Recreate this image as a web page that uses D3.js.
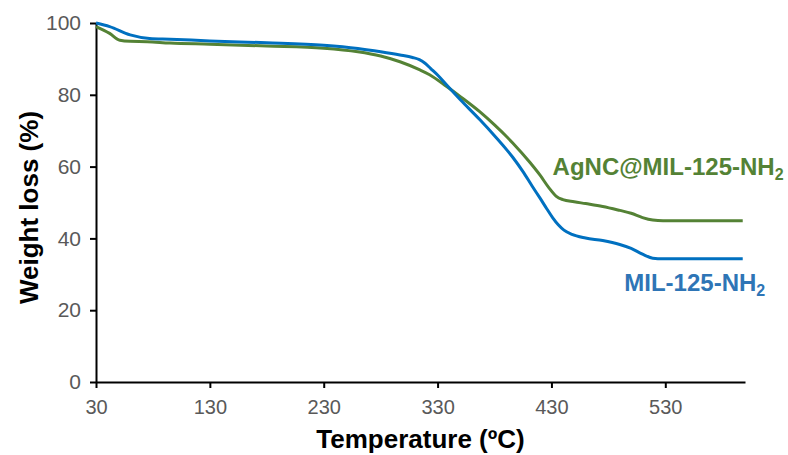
<!DOCTYPE html>
<html>
<head>
<meta charset="utf-8">
<script src="https://cdn.jsdelivr.net/npm/d3@7/dist/d3.min.js"></script>
<style>
  html, body { margin: 0; padding: 0; background: #fff; }
  svg { display: block; font-family: "Liberation Sans", Arial, sans-serif; }
</style>
</head>
<body>
<svg id="chart" width="788" height="455"></svg>
<script>
// TGA curves: temperature (ºC) vs remaining weight (%)
const tempMIL = [30, 42, 60, 77, 95, 130, 180, 230, 260, 280, 297, 308, 314, 319, 324, 330, 338, 350, 367, 380, 396, 405, 413, 420, 426, 431, 436, 441, 448, 460, 475, 490, 500, 510, 519, 528, 560, 598];
const weightMIL = [100, 99, 96.7, 95.7, 95.5, 95, 94.5, 93.8, 92.9, 92.0, 91.1, 90.4, 89.8, 88.8, 87.3, 85.5, 82.7, 78.6, 73.1, 68.6, 62.6, 58.6, 54.6, 51.2, 48.2, 45.8, 43.8, 42.3, 41.1, 40.1, 39.4, 38.3, 37.2, 35.6, 34.5, 34.3, 34.3, 34.3];

const tempAg = [30, 42, 51, 60, 75, 95, 130, 180, 230, 260, 280, 297, 314, 323, 338, 350, 367, 380, 396, 411, 420, 428, 434, 440, 450, 460, 475, 490, 500, 510, 519, 528, 560, 598];
const weightAg = [99, 97.1, 95.2, 94.9, 94.8, 94.4, 94.1, 93.6, 93.0, 92.0, 90.8, 89.2, 87.0, 85.6, 82.3, 79.5, 75.3, 71.6, 66.6, 61.2, 57.6, 54.0, 51.8, 50.8, 50.2, 49.7, 48.9, 47.8, 47.0, 45.8, 45.1, 44.9, 44.9, 44.9];

const xTicks = [30, 130, 230, 330, 430, 530];
const yTicks = [0, 20, 40, 60, 80, 100];

const seriesNames = ["MIL-125-NH", "AgNC@MIL-125-NH"];

const W = 788, H = 455;
const margin = { top: 23, right: 43, bottom: 73, left: 96 };

const svg = d3.select("#chart");

const x = d3.scaleLinear().domain([30, 600]).range([margin.left, W - margin.right]);
const y = d3.scaleLinear().domain([0, 100]).range([H - margin.bottom, margin.top]);

const tickGray = "#595959";

// axes
const xAxis = svg.append("g")
  .attr("transform", `translate(0,${H - margin.bottom})`)
  .call(d3.axisBottom(x).tickValues(xTicks).tickSize(6).tickSizeOuter(0).tickPadding(12).tickFormat(d3.format("d")));
const yAxis = svg.append("g")
  .attr("transform", `translate(${margin.left},0)`)
  .call(d3.axisLeft(y).tickValues(yTicks).tickSize(6).tickSizeOuter(0).tickPadding(9).tickFormat(d3.format("d")));

[[xAxis, "20px"], [yAxis, "21px"]].forEach(([g, fs]) => {
  g.select(".domain").attr("stroke", "#000").attr("stroke-width", 2);
  g.selectAll(".tick line").attr("stroke", "#000").attr("stroke-width", 2);
  g.selectAll(".tick text")
    .attr("fill", tickGray)
    .style("font-size", fs)
    .style("font-family", "'Liberation Sans', Arial, sans-serif");
});

// curves
const line = d3.line()
  .x(d => x(d[0]))
  .y(d => y(d[1]))
  .curve(d3.curveMonotoneX);

const blue = "#0070C0";
const green = "#548235";

svg.append("path")
  .datum(d3.zip(tempAg, weightAg))
  .attr("fill", "none")
  .attr("stroke", green)
  .attr("stroke-width", 3)
  .attr("d", line);

svg.append("path")
  .datum(d3.zip(tempMIL, weightMIL))
  .attr("fill", "none")
  .attr("stroke", blue)
  .attr("stroke-width", 3)
  .attr("d", line);

// series labels with subscript 2
function seriesLabel(name, color, tx, wy) {
  const t = svg.append("text")
    .attr("x", x(tx))
    .attr("y", y(wy))
    .attr("fill", color)
    .style("font-size", "24px")
    .style("font-weight", "bold");
  t.append("tspan").text(name);
  t.append("tspan").attr("dy", 5).style("font-size", "16px").text("2");
}
seriesLabel(seriesNames[1], green, 431, 57.6);
seriesLabel(seriesNames[0], "#2E75B6", 494, 25.3);

// axis titles
svg.append("text")
  .attr("x", (margin.left + W - margin.right) / 2)
  .attr("y", 448)
  .attr("text-anchor", "middle")
  .style("font-size", "26px")
  .style("font-weight", "bold")
  .attr("fill", "#000")
  .text("Temperature (ºC)");

svg.append("text")
  .attr("transform", `translate(38,${(margin.top + H - margin.bottom) / 2 + 5}) rotate(-90)`)
  .attr("text-anchor", "middle")
  .style("font-size", "26px")
  .style("font-weight", "bold")
  .attr("fill", "#000")
  .text("Weight loss (%)");
</script>
</body>
</html>
